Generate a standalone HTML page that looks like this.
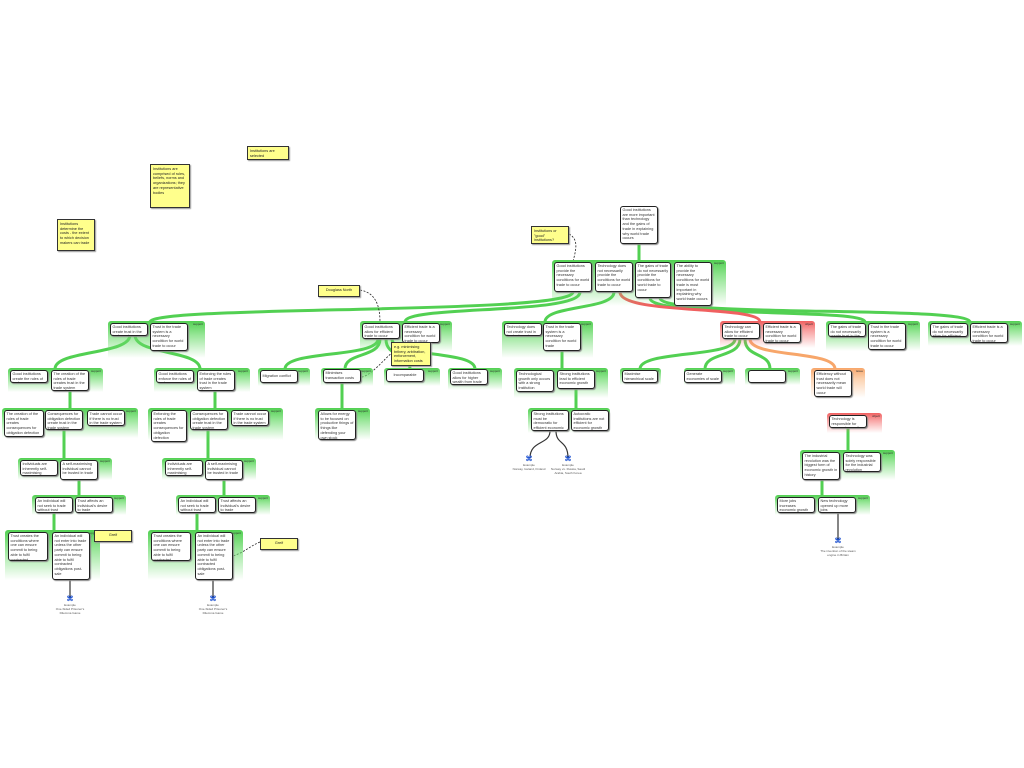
<!DOCTYPE html>
<html><head><meta charset="utf-8"><style>
body{margin:0;width:1024px;height:768px;background:#fff;position:relative;overflow:hidden;font-family:"Liberation Sans",sans-serif}
.g{position:absolute;border-radius:3px 3px 0 0;background:linear-gradient(to bottom,#52d052 0%,rgba(110,220,110,.75) 35%,rgba(255,255,255,0) 100%)}
.g.r{background:linear-gradient(to bottom,#f06060 0%,rgba(245,120,120,.7) 35%,rgba(255,255,255,0) 100%)}
.g.o{background:linear-gradient(to bottom,#f7a66a 0%,rgba(250,190,140,.7) 35%,rgba(255,255,255,0) 100%)}
.g i{position:absolute;right:2px;top:1px;font-size:3px;font-style:normal;color:#333}
.b{position:absolute;background:#fff;border:1.3px solid #222;border-radius:3px;box-shadow:1px 1px 1px #888;font-size:3.8px;line-height:4.7px;padding:1px 1.5px;box-sizing:border-box;color:#333;overflow:hidden}
.n{position:absolute;background:#ffff8c;border:1px solid #333;font-size:3.8px;line-height:4.7px;padding:2px;box-sizing:border-box;color:#222;box-shadow:1px 1px 1px #999;overflow:hidden}
.e{position:absolute;font-size:3px;line-height:3.8px;color:#555;text-align:center;width:40px}
.e b{display:block;color:#1a4fd0;font-size:7px;line-height:8px}
svg{position:absolute;left:0;top:0}
</style></head><body>
<svg width="1024" height="768" fill="none">
<g stroke="#52d052" stroke-width="3">
<path d="M639 244V262"/>
<path d="M573 292C573 315 150 305 150 322"/>
<path d="M580 292C580 315 405 305 405 322"/>
<path d="M614 292C614 310 545 305 545 322"/>
<path d="M650 298C650 318 865 308 865 322"/>
<path d="M660 298C660 318 970 305 970 322"/>
<path d="M130 335C130 355 55 350 55 369"/>
<path d="M135 335C135 355 200 350 200 369"/>
<path d="M378 339C378 358 285 350 285 369"/>
<path d="M380 339C380 358 345 352 345 369"/>
<path d="M386 339C386 358 410 352 410 369"/>
<path d="M392 339C392 358 475 350 475 369"/>
<path d="M562 351V369"/>
<path d="M735 339C735 358 640 350 640 369"/>
<path d="M740 339C740 358 705 352 705 369"/>
<path d="M745 339C745 358 770 352 770 369"/>
<path d="M70 391V409"/><path d="M215 391V409"/>
<path d="M64 430V459"/><path d="M208 430V459"/>
<path d="M79 480V496"/><path d="M224 480V496"/>
<path d="M54 513V531"/><path d="M197 513V531"/>
<path d="M342 383V409"/>
<path d="M576 389V409"/>
<path d="M848 428V451"/>
<path d="M822 480V496"/>
</g>
<path d="M620 292C620 315 760 305 760 322" stroke="#f06060" stroke-width="3"/>
<path d="M750 339C750 358 835 350 835 369" stroke="#f7a66a" stroke-width="3"/>
<g stroke="#333" stroke-width="1.2">
<path d="M70 580V598"/><path d="M213 580V598"/><path d="M838 513V540"/>
<path d="M550 431C550 445 530 440 530 458"/><path d="M556 431C556 445 568 440 568 458"/>
</g>
<g stroke="#222" stroke-width="0.8" stroke-dasharray="2,1.5">
<path d="M569 234C580 240 575 252 573 262"/>
<path d="M360 290C378 293 380 310 380 323"/>
<path d="M393 352C385 358 372 375 362 377"/>
<path d="M94 534C86 540 88 548 90 555"/>
<path d="M260 542C250 546 245 552 233 556"/>
</g>
</svg>

<div class="b" style="left:620px;top:206px;width:38px;height:38px">Good institutions are more important than technology and the gains of trade in explaining why world trade occurs</div>

<div class="g" style="left:552px;top:260px;width:174px;height:46px"><i>support</i></div>
<div class="b" style="left:554px;top:262px;width:38px;height:30px">Good institutions provide the necessary conditions for world trade to occur</div>
<div class="b" style="left:595px;top:262px;width:38px;height:30px">Technology does not necessarily provide the conditions for world trade to occur</div>
<div class="b" style="left:635px;top:262px;width:36px;height:36px">The gains of trade do not necessarily provide the conditions for world trade to occur</div>
<div class="b" style="left:674px;top:262px;width:38px;height:44px">The ability to provide the necessary conditions for world trade is most important in explaining why world trade occurs</div>

<div class="g" style="left:108px;top:321px;width:97px;height:37px"><i>support</i></div>
<div class="b" style="left:110px;top:323px;width:38px;height:13px">Good institutions create trust in the trade system</div>
<div class="b" style="left:150px;top:323px;width:38px;height:28px">Trust in the trade system is a necessary condition for world trade to occur</div>

<div class="g" style="left:360px;top:321px;width:92px;height:31px"><i>support</i></div>
<div class="b" style="left:362px;top:323px;width:38px;height:16px">Good institutions allow for efficient trade to occur</div>
<div class="b" style="left:402px;top:323px;width:38px;height:20px">Efficient trade is a necessary condition for world trade to occur</div>

<div class="g" style="left:502px;top:321px;width:91px;height:37px"><i>support</i></div>
<div class="b" style="left:504px;top:323px;width:38px;height:13px">Technology does not create trust in the trade system</div>
<div class="b" style="left:543px;top:323px;width:38px;height:28px">Trust in the trade system is a necessary condition for world trade</div>

<div class="g r" style="left:720px;top:321px;width:95px;height:27px"><i>object</i></div>
<div class="b" style="left:722px;top:323px;width:38px;height:16px">Technology can allow for efficient trade to occur</div>
<div class="b" style="left:763px;top:323px;width:38px;height:20px">Efficient trade is a necessary condition for world trade to occur</div>

<div class="g" style="left:826px;top:321px;width:94px;height:30px"><i>support</i></div>
<div class="b" style="left:828px;top:323px;width:38px;height:14px">The gains of trade do not necessarily create trust in the trade system</div>
<div class="b" style="left:868px;top:323px;width:38px;height:27px">Trust in the trade system is a necessary condition for world trade to occur</div>

<div class="g" style="left:928px;top:321px;width:94px;height:25px"><i>support</i></div>
<div class="b" style="left:930px;top:323px;width:38px;height:14px">The gains of trade do not necessarily allow for efficient trade to occur</div>
<div class="b" style="left:970px;top:323px;width:38px;height:20px">Efficient trade is a necessary condition for world trade to occur</div>

<div class="g" style="left:8px;top:368px;width:95px;height:24px"><i>support</i></div>
<div class="b" style="left:10px;top:370px;width:38px;height:13px">Good institutions create the rules of trade</div>
<div class="b" style="left:51px;top:370px;width:38px;height:21px">The creation of the rules of trade creates trust in the trade system</div>

<div class="g" style="left:154px;top:368px;width:96px;height:24px"><i>support</i></div>
<div class="b" style="left:156px;top:370px;width:38px;height:13px">Good institutions enforce the rules of trade</div>
<div class="b" style="left:197px;top:370px;width:38px;height:21px">Enforcing the rules of trade creates trust in the trade system</div>

<div class="g" style="left:258px;top:368px;width:52px;height:18px"><i>support</i></div>
<div class="b" style="left:260px;top:370px;width:38px;height:13px;padding-top:3px">Migration conflict</div>
<div class="g" style="left:321px;top:368px;width:52px;height:18px"><i>support</i></div>
<div class="b" style="left:323px;top:369px;width:38px;height:14px">Minimises transaction costs</div>
<div class="g" style="left:384px;top:368px;width:56px;height:18px"><i>support</i></div>
<div class="b" style="left:386px;top:369px;width:38px;height:13px;padding-top:3px;text-align:center">Incomparable</div>
<div class="g" style="left:448px;top:368px;width:54px;height:22px"><i>support</i></div>
<div class="b" style="left:450px;top:369px;width:38px;height:16px">Good institutions allow for higher wealth from trade</div>

<div class="g" style="left:514px;top:368px;width:94px;height:30px"><i>support</i></div>
<div class="b" style="left:516px;top:370px;width:38px;height:22px">Technological growth only occurs with a strong institution</div>
<div class="b" style="left:557px;top:370px;width:38px;height:19px">Strong institutions lead to efficient economic growth</div>

<div class="g" style="left:620px;top:368px;width:41px;height:17px"><i>support</i></div>
<div class="b" style="left:622px;top:370px;width:36px;height:13px">Maximise hierarchical scale</div>
<div class="g" style="left:684px;top:368px;width:51px;height:17px"><i>support</i></div>
<div class="b" style="left:684px;top:370px;width:38px;height:13px">Generate economies of scale</div>
<div class="g" style="left:745px;top:368px;width:55px;height:17px"><i>support</i></div>
<div class="b" style="left:748px;top:370px;width:38px;height:13px"></div>
<div class="g o" style="left:811px;top:368px;width:54px;height:30px"><i>issue</i></div>
<div class="b" style="left:814px;top:370px;width:38px;height:27px">Efficiency without trust does not necessarily mean world trade will occur</div>

<div class="g" style="left:2px;top:408px;width:136px;height:30px"><i>support</i></div>
<div class="b" style="left:4px;top:410px;width:40px;height:27px">The creation of the rules of trade creates consequences for obligation defection</div>
<div class="b" style="left:45px;top:410px;width:38px;height:20px">Consequences for obligation defection create trust in the trade system</div>
<div class="b" style="left:87px;top:410px;width:38px;height:16px">Trade cannot occur if there is no trust in the trade system</div>

<div class="g" style="left:148px;top:408px;width:135px;height:32px"><i>support</i></div>
<div class="b" style="left:151px;top:410px;width:36px;height:32px">Enforcing the rules of trade creates consequences for obligation defection</div>
<div class="b" style="left:190px;top:410px;width:38px;height:20px">Consequences for obligation defection create trust in the trade system</div>
<div class="b" style="left:231px;top:410px;width:38px;height:16px">Trade cannot occur if there is no trust in the trade system</div>

<div class="g" style="left:315px;top:408px;width:55px;height:32px"><i>support</i></div>
<div class="b" style="left:318px;top:410px;width:38px;height:30px">Allows for energy to be focused on productive things of things like defending your own stock</div>

<div class="g" style="left:528px;top:408px;width:82px;height:25px"><i>support</i></div>
<div class="b" style="left:531px;top:410px;width:38px;height:21px">Strong institutions must be democratic for efficient economic growth</div>
<div class="b" style="left:571px;top:410px;width:38px;height:21px">Autocratic institutions are not efficient for economic growth</div>

<div class="g r" style="left:827px;top:413px;width:55px;height:20px"><i>object</i></div>
<div class="b" style="left:829px;top:415px;width:38px;height:13px">Technology is responsible for economic growth</div>

<div class="g" style="left:18px;top:458px;width:94px;height:22px"><i>support</i></div>
<div class="b" style="left:20px;top:460px;width:38px;height:16px">Individuals are inherently self-maximising</div>
<div class="b" style="left:60px;top:460px;width:38px;height:20px">A self-maximising individual cannot be trusted in trade</div>
<div class="g" style="left:162px;top:458px;width:94px;height:22px"><i>support</i></div>
<div class="b" style="left:165px;top:460px;width:38px;height:16px">Individuals are inherently self-maximising</div>
<div class="b" style="left:205px;top:460px;width:38px;height:20px">A self-maximising individual cannot be trusted in trade</div>

<div class="g" style="left:800px;top:450px;width:95px;height:30px"><i>support</i></div>
<div class="b" style="left:802px;top:452px;width:38px;height:28px">The industrial revolution was the biggest form of economic growth in history</div>
<div class="b" style="left:843px;top:452px;width:38px;height:20px">Technology was solely responsible for the industrial revolution</div>

<div class="g" style="left:32px;top:495px;width:94px;height:20px"><i>support</i></div>
<div class="b" style="left:35px;top:497px;width:38px;height:16px">An individual will not seek to trade without trust</div>
<div class="b" style="left:75px;top:497px;width:38px;height:16px">Trust affects an individual's desire to trade</div>
<div class="g" style="left:176px;top:495px;width:94px;height:20px"><i>support</i></div>
<div class="b" style="left:178px;top:497px;width:38px;height:16px">An individual will not seek to trade without trust</div>
<div class="b" style="left:218px;top:497px;width:38px;height:16px">Trust affects an individual's desire to trade</div>
<div class="g" style="left:775px;top:495px;width:95px;height:20px"><i>support</i></div>
<div class="b" style="left:777px;top:497px;width:38px;height:16px">More jobs increases economic growth</div>
<div class="b" style="left:818px;top:497px;width:38px;height:16px">New technology opened up more jobs</div>

<div class="g" style="left:5px;top:530px;width:95px;height:50px"><i>support</i></div>
<div class="b" style="left:8px;top:532px;width:40px;height:29px">Trust creates the conditions where one can ensure commit to being able to fulfil contracted obligations post-sale</div>
<div class="b" style="left:52px;top:532px;width:38px;height:48px">An individual will not enter into trade unless the other party can ensure commit to being able to fulfil contracted obligations post-sale</div>
<div class="g" style="left:148px;top:530px;width:95px;height:50px"><i>support</i></div>
<div class="b" style="left:151px;top:532px;width:40px;height:29px">Trust creates the conditions where one can ensure commit to being able to fulfil contracted obligations post-sale</div>
<div class="b" style="left:195px;top:532px;width:38px;height:48px">An individual will not enter into trade unless the other party can ensure commit to being able to fulfil contracted obligations post-sale</div>

<div class="e" style="left:50px;top:596px"><b>⌘</b>Example<br>One-Sided Prisoner's Dilemma Game</div>
<div class="e" style="left:193px;top:596px"><b>⌘</b>Example<br>One-Sided Prisoner's Dilemma Game</div>
<div class="e" style="left:509px;top:456px"><b>⌘</b>Example<br>Norway, Iceland, Finland</div>
<div class="e" style="left:548px;top:456px"><b>⌘</b>Example<br>Norway vs. Russia, Saudi Arabia, South Korea</div>
<div class="e" style="left:818px;top:538px"><b>⌘</b>Example<br>The invention of the steam engine in Britain</div>

<div class="n" style="left:247px;top:146px;width:42px;height:14px">Institutions are selected</div>
<div class="n" style="left:150px;top:164px;width:40px;height:44px">Institutions are comprised of rules, beliefs, norms and organizations; they are representative bodies</div>
<div class="n" style="left:57px;top:219px;width:38px;height:32px">Institutions determine the costs - the extent to which decision makers can trade</div>
<div class="n" style="left:531px;top:226px;width:38px;height:18px">Institutions or "good" institutions?</div>
<div class="n" style="left:318px;top:285px;width:42px;height:12px;text-align:center">Douglass North</div>
<div class="n" style="left:391px;top:342px;width:40px;height:24px">e.g. minimising bribery, arbitration, enforcement, information costs</div>
<div class="n" style="left:94px;top:530px;width:38px;height:12px;text-align:center">Greif</div>
<div class="n" style="left:260px;top:538px;width:38px;height:12px;text-align:center">Greif</div>
</body></html>
